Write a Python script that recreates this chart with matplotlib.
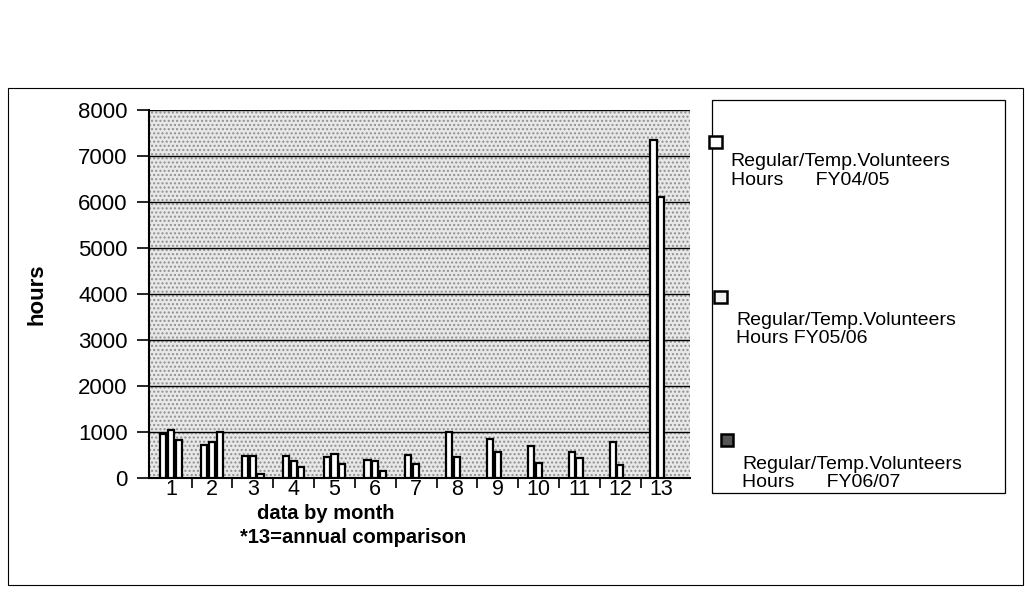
import numpy as np
import matplotlib.pyplot as plt
from matplotlib.patches import Rectangle

plt.rcParams['font.family'] = ['Liberation Sans', 'DejaVu Sans']

# datos (horas por mes, 13 = comparación anual)
meses = ['1', '2', '3', '4', '5', '6', '7', '8', '9', '10', '11', '12', '13']
fy0405 = [960, 720, 470, 470, 450, 400, 500, 1000, 850, 700, 570, 780, 7350]
fy0506 = [1040, 790, 470, 380, 520, 370, 300, 460, 570, 330, 430, 280, 6100]
fy0607 = [830, 1000, 80, 230, 300, 150, np.nan, np.nan, np.nan, np.nan, np.nan, np.nan, np.nan]
series = ['Regular/Temp.Volunteers\nHours      FY04/05',
          'Regular/Temp.Volunteers\nHours FY05/06',
          'Regular/Temp.Volunteers\nHours      FY06/07']
y_ticks = [0, 1000, 2000, 3000, 4000, 5000, 6000, 7000, 8000]

fig = plt.figure(figsize=(10.25, 6.09), dpi=100)

# marco exterior del gráfico
fig.patches.append(Rectangle((0.008, 0.04), 0.99, 0.815, transform=fig.transFigure,
                             fill=False, edgecolor='black', linewidth=0.8))

ax = fig.add_axes([0.145, 0.215, 0.528, 0.605])
ax.set_facecolor('#e8e8e8')
# fondo punteado
ax.add_patch(Rectangle((0, 0), 1, 1, transform=ax.transAxes, facecolor='none',
                       edgecolor='#909090', hatch='....', linewidth=0, zorder=0))

x = np.arange(1, len(meses) + 1)
ancho = 0.15
desp = 0.19
for k, datos in enumerate([fy0405, fy0506, fy0607]):
    ax.bar(x + (k - 1) * desp, datos, ancho, color='white', edgecolor='black',
           linewidth=1.6, zorder=3)

ax.set_xlim(0.45, 13.7)
ax.set_ylim(0, 8000)
ax.set_yticks(y_ticks)
ax.set_yticklabels([str(v) for v in y_ticks], fontsize=16)
ax.yaxis.grid(True, color='black', linewidth=1.0, zorder=1)
ax.set_axisbelow(True)

ax.set_xticks(x)
ax.set_xticklabels(meses, fontsize=15.5)
ax.set_xticks(np.arange(1.5, 13.5, 1), minor=True)
ax.tick_params(axis='x', which='major', length=0, pad=1)
ax.tick_params(axis='x', which='minor', length=7, width=1.2, direction='out')
ax.tick_params(axis='y', length=9, width=1.2, direction='out', pad=6)

for lado in ['top', 'right']:
    ax.spines[lado].set_visible(False)
ax.spines['left'].set_linewidth(1.5)
ax.spines['bottom'].set_linewidth(1.5)

ax.set_ylabel('hours', fontsize=16, fontweight='bold', labelpad=22)
fig.text(0.318, 0.157, 'data by month', fontsize=14.5, fontweight='bold',
         ha='center', va='center')
fig.text(0.345, 0.117, '*13=annual comparison', fontsize=14.5, fontweight='bold',
         ha='center', va='center')

# leyenda dibujada a mano
fig.patches.append(Rectangle((0.695, 0.19), 0.285, 0.645, transform=fig.transFigure,
                             fill=False, edgecolor='black', linewidth=0.9))
marcas_y = [0.757, 0.502, 0.268]
texto_y = [0.69, 0.43, 0.193]
marca_x = [0.692, 0.697, 0.703]
rellenos = ['white', '#f2f2f2', '#555555']
for i in range(3):
    fig.patches.append(Rectangle((marca_x[i], marcas_y[i]), 0.012, 0.02,
                                 transform=fig.transFigure, facecolor=rellenos[i],
                                 edgecolor='black', linewidth=1.8))
    fig.text(marca_x[i] + 0.021, texto_y[i], series[i], fontsize=14,
             linespacing=1.1, va='bottom', ha='left')

fig.savefig('out.png', dpi=100)
